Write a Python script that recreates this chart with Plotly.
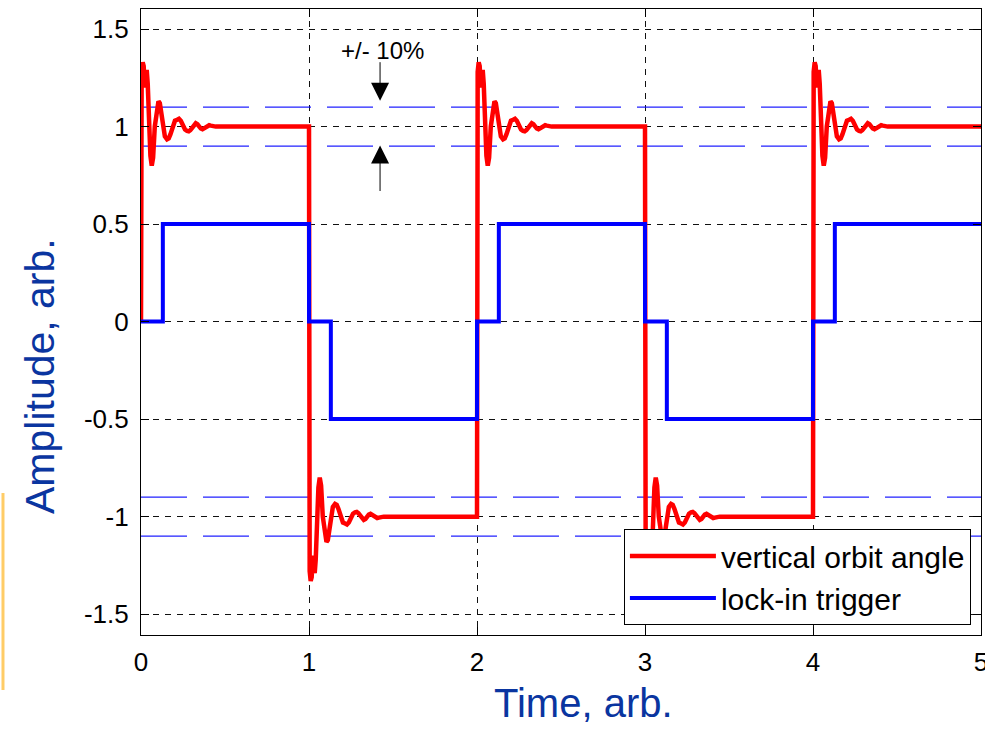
import plotly.graph_objects as go

# ---- data ----
x_ticks = [0, 1, 2, 3, 4, 5]
x_tick_labels = ["0", "1", "2", "3", "4", "5"]
y_ticks = [1.5, 1, 0.5, 0, -0.5, -1, -1.5]
y_tick_labels = ["1.5", "1", "0.5", "0", "-0.5", "-1", "-1.5"]

# square-wave transitions of the red signal
red_switch_times = [0, 1, 2, 3, 4]
red_levels = [1, -1, 1, -1, 1]
red_start_level = 0
red_end_time = 5
# ringing after each switch: (time offset, value relative to the new level)
ring_dt = [0.0, 0.004, 0.010, 0.016, 0.022, 0.028, 0.034, 0.040, 0.048, 0.056,
           0.064, 0.072, 0.082, 0.094, 0.104, 0.112, 0.120, 0.130, 0.142, 0.155,
           0.165, 0.175, 0.188, 0.202, 0.215, 0.226, 0.237, 0.250, 0.262, 0.274,
           0.284, 0.294, 0.305, 0.316, 0.326, 0.336, 0.346, 0.356, 0.366, 0.376,
           0.386, 0.396, 0.406, 0.416, 0.428, 0.445]
ring_v = [1.00, 1.28, 1.33, 1.31, 1.20, 1.24, 1.29, 1.22, 1.00, 0.85,
          0.80, 0.84, 1.00, 1.10, 1.13, 1.12, 1.08, 1.00, 0.95, 0.935,
          0.94, 0.96, 1.00, 1.03, 1.035, 1.04, 1.03, 1.005, 0.985, 0.978,
          0.976, 0.982, 0.997, 1.010, 1.017, 1.012, 1.000, 0.990, 0.986, 0.990,
          0.998, 1.004, 1.007, 1.005, 1.001, 1.000]

# lock-in trigger (step)
blue_t = [0, 0.13, 1, 1.13, 2, 2.13, 3, 3.13, 4, 4.13, 5]
blue_v = [0, 0.5, 0, -0.5, 0, 0.5, 0, -0.5, 0, 0.5, 0.5]

# +/-10% tolerance bands
tol_levels = [1.1, 0.9, -0.9, -1.1]

# ---- build red series ----
red_x, red_y = [0], [red_start_level]
for i, (t, L) in enumerate(zip(red_switch_times, red_levels)):
    for dt, v in zip(ring_dt, ring_v):
        red_x.append(t + dt)
        red_y.append(L * v)
    t_next = red_switch_times[i + 1] if i + 1 < len(red_switch_times) else red_end_time
    red_x.append(t_next)
    red_y.append(L)

fig = go.Figure()

for lv in tol_levels:
    fig.add_trace(go.Scatter(
        x=[0, 5], y=[lv, lv], mode="lines", showlegend=False, hoverinfo="skip",
        line=dict(color="rgba(10,10,255,0.9)", width=1.1, dash="46px,16px")))

fig.add_trace(go.Scatter(
    x=red_x, y=red_y, mode="lines", name="vertical orbit angle",
    line=dict(color="#ff0000", width=4.5)))
fig.add_trace(go.Scatter(
    x=blue_t, y=blue_v, mode="lines", name="lock-in trigger",
    line=dict(color="#0000ff", width=4, shape="hv")))

axis_common = dict(
    showline=True, linecolor="black", linewidth=1.2, mirror="ticks",
    ticks="inside", ticklen=8, tickwidth=1, tickcolor="black",
    showgrid=True, gridcolor="#111111", gridwidth=1, griddash="6px,6px",
    zeroline=False, ticklabeloverflow="allow", automargin=False,
    tickfont=dict(family="Liberation Sans, Arial, sans-serif", size=26, color="black"),
)

fig.update_xaxes(range=[0, 5], tickvals=x_ticks, ticktext=x_tick_labels,
                 ticklabelstandoff=4, **axis_common)
fig.update_yaxes(range=[-1.607, 1.603], tickvals=y_ticks, ticktext=y_tick_labels,
                 ticklabelstandoff=6, **axis_common)

label_font = dict(family="Liberation Sans, Arial, sans-serif", color="#0a35a0")

fig.update_layout(
    width=985, height=729,
    margin=dict(l=141, r=4, t=9, b=94, autoexpand=False),
    paper_bgcolor="white", plot_bgcolor="white",
    legend=dict(
        x=0.988, y=0.016, xanchor="right", yanchor="bottom",
        bgcolor="white", bordercolor="black", borderwidth=1,
        font=dict(family="Liberation Sans, Arial, sans-serif", size=30, color="black"),
        itemwidth=86, tracegroupgap=0,
    ),
    annotations=[
        dict(text="Time, arb.", xref="paper", yref="paper", x=0.527, y=-0.108,
             xanchor="center", yanchor="middle", showarrow=False,
             font=dict(size=40, **label_font)),
        dict(text="Amplitude, arb.", xref="paper", yref="paper", x=-0.120, y=0.414,
             xanchor="center", yanchor="middle", showarrow=False, textangle=-90,
             font=dict(size=41, **label_font)),
        dict(text="+/- 10%", xref="x", yref="y", x=1.435, y=1.389, showarrow=False,
             font=dict(family="Liberation Sans, Arial, sans-serif", size=24, color="black")),
        dict(text="", xref="x", yref="y", x=1.423, y=1.133, axref="x", ayref="y",
             ax=1.423, ay=1.338, showarrow=True, arrowhead=2, arrowsize=3.6,
             arrowwidth=1.0, arrowcolor="black"),
        dict(text="", xref="x", yref="y", x=1.423, y=0.903, axref="x", ayref="y",
             ax=1.423, ay=0.662, showarrow=True, arrowhead=2, arrowsize=3.6,
             arrowwidth=1.0, arrowcolor="black"),
    ],
    shapes=[
        dict(type="line", xref="paper", yref="paper", x0=-0.1643, x1=-0.1643,
             y0=0.2268, y1=-0.0879, line=dict(color="#ffcc66", width=3)),
    ],
)

fig.write_html("out.html")
